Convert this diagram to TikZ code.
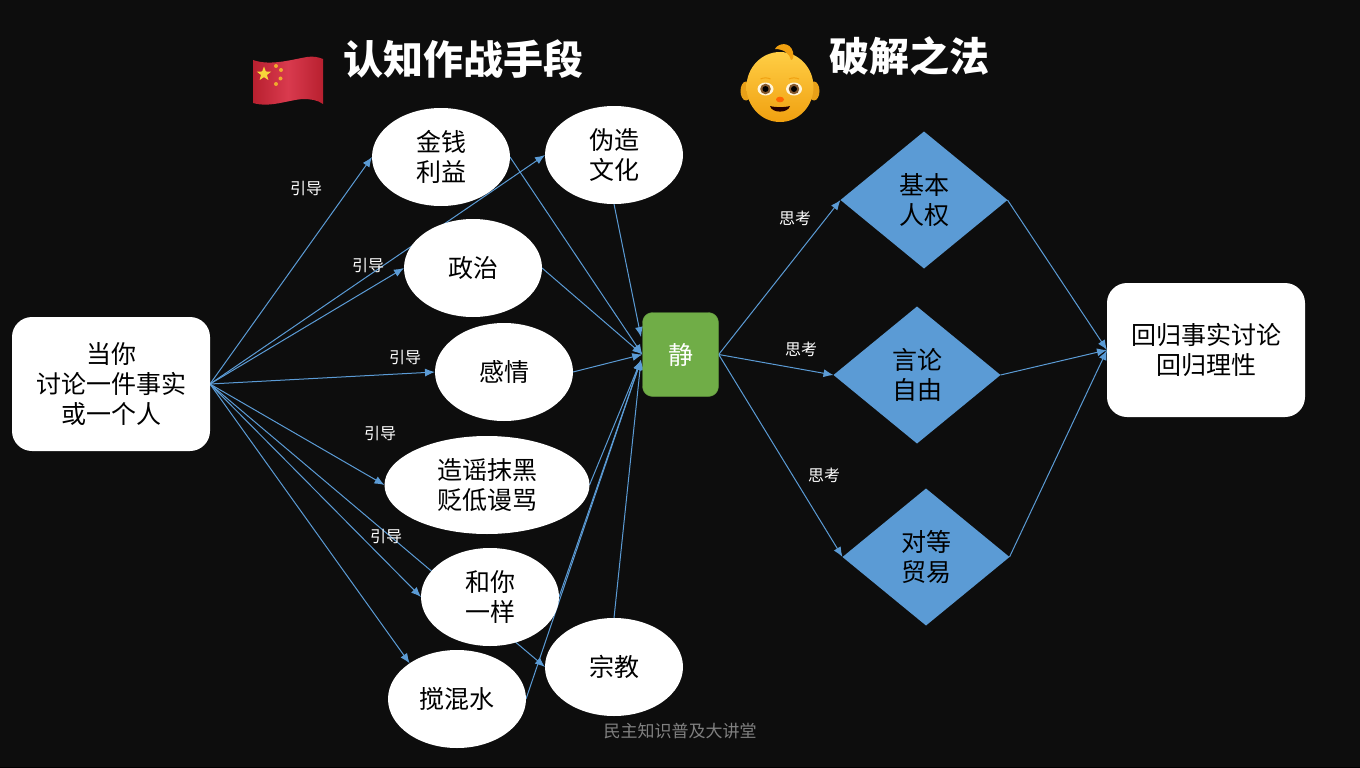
\documentclass[tikz,border=0pt]{standalone}
\usepackage{fontspec}
\setmainfont{Noto Sans CJK SC}
\usetikzlibrary{arrows.meta,backgrounds,shapes.geometric}
\definecolor{bgblack}{HTML}{0D0D0D}
\definecolor{linkblue}{HTML}{5B9BD5}
\definecolor{jinggreen}{HTML}{70AD47}
\definecolor{flagred}{HTML}{D93A4E}
\definecolor{flagdark}{HTML}{B8202F}
\definecolor{staryellow}{HTML}{F7D83A}
\definecolor{starorange}{HTML}{F0A92E}
\definecolor{babytop}{HTML}{FFCE45}
\definecolor{babylow}{HTML}{F0A010}
\definecolor{babyear}{HTML}{E8A018}
\tikzset{
	ell/.style={draw=none,ellipse,fill=white,text=black,inner sep=0,outer sep=0,minimum width=138pt,minimum height=98pt,align=center,font=\fontsize{25}{30}\selectfont},
	dia/.style={draw=none,diamond,fill=linkblue,text=black,inner sep=0,outer sep=0,minimum width=167pt,minimum height=137pt,align=center,font=\fontsize{25}{30}\selectfont},
	bigbox/.style={draw=none,rectangle,rounded corners=20pt,fill=white,text=black,inner sep=0,outer sep=0,minimum width=198pt,minimum height=134pt,align=center,font=\fontsize{25}{30}\selectfont},
	link/.style={draw=linkblue,line width=1pt,-{Latex[length=10pt,width=8pt]}},
	tag/.style={text=white,inner sep=0,font=\fontsize{16}{18}\selectfont},
	headline/.style={text=white,inner sep=0,font=\fontsize{40}{44}\selectfont\bfseries},
}
\begin{document}
\begin{tikzpicture}[x=1pt,y=-1pt]
	\useasboundingbox (0,0) rectangle (1360,768);
	% nodes
	\node[bigbox] (you) at (111,384) {当你\\讨论一件事实\\或一个人};
	\node[ell] (money) at (441,157) {金钱\\利益};
	\node[ell] (fake) at (614,155) {伪造\\文化};
	\node[ell] (politics) at (473,268) {政治};
	\node[ell] (feeling) at (504,372) {感情};
	\node[ell,minimum width=205pt] (rumor) at (487,485) {造谣抹黑\\贬低谩骂};
	\node[ell] (same) at (490,597) {和你\\一样};
	\node[ell] (religion) at (614,667) {宗教};
	\node[ell] (muddle) at (457,699) {搅混水};
	\node[draw=jinggreen!85!black,rectangle,rounded corners=10pt,fill=jinggreen,text=white,inner sep=0,minimum width=76pt,minimum height=84pt,font=\fontsize{25}{30}\selectfont] (calm) at (680.5,354.5) {静};
	\coordinate (calmtop) at (641,337);
	\coordinate (calmlow) at (641,360);
	\node[dia] (rights) at (924,200) {基本\\人权};
	\node[dia] (speech) at (917,375) {言论\\自由};
	\node[dia] (trade) at (926,557) {对等\\贸易};
	\node[bigbox] (back) at (1206,350) {回归事实讨论\\回归理性};
	% labels
	\node[tag] (g1) at (306,188) {引导};
	\node[tag] (g2) at (368,265) {引导};
	\node[tag] (g3) at (405,357) {引导};
	\node[tag] (g4) at (380,433) {引导};
	\node[tag] (g5) at (386,536) {引导};
	\node[tag] (s1) at (795,218) {思考};
	\node[tag] (s2) at (801,349) {思考};
	\node[tag] (s3) at (824,475) {思考};
	\node[headline] (title1) at (463,59) {认知作战手段};
	\node[headline] (title2) at (909,56) {破解之法};
	\node[text=black!50,inner sep=0,font=\fontsize{17}{20}\selectfont] (footer) at (680,731) {民主知识普及大讲堂};
	% connectors, below the nodes
	\begin{scope}[on background layer]
		\fill[bgblack] (0,0) rectangle (1360,768);
		\fill[black] (0,766.5) rectangle (1360,768);
		\foreach \n in {money,politics,feeling,rumor,same}
			\draw[link] (you.east) -- (\n.west);
		\draw[link] (you.east) -- (muddle.143);
		\draw[link] (you.east) -- (fake.west);
		\draw[link] (you.east) -- (religion.west);
		\draw[link] (money.east) -- (calm.west);
		\draw[link] (fake.south) -- (calmtop);
		\draw[link] (politics.east) -- (calm.west);
		\draw[link] (feeling.east) -- (calm.west);
		\draw[link] (rumor.east) -- (calmlow);
		\draw[link] (same.east) -- (calmlow);
		\draw[link] (religion.north) -- (calmlow);
		\draw[link] (muddle.east) -- (calmlow);
		\draw[link] (calm.east) -- (rights.west);
		\draw[link] (calm.east) -- (speech.west);
		\draw[link] (calm.east) -- (trade.west);
		\draw[link] (rights.east) -- (back.west);
		\draw[link] (speech.east) -- (back.west);
		\draw[link] (trade.east) -- (back.west);
	\end{scope}
	% flag
	\shade[left color=flagdark,right color=flagdark,middle color=flagred] (253,60) .. controls (270,66) and (290,60) .. (307,57) .. controls (313,56) and (318,57) .. (323,59) -- (323,104) .. controls (318,100) and (310,99) .. (303,99) .. controls (288,100) and (270,108) .. (253,103) -- cycle;
	\node[star,star points=5,star point ratio=2.4,fill=staryellow,inner sep=0,minimum size=15pt] (bigstar) at (264,74) {};
	\foreach \x/\y in {276/66,281/70,280.5/78.5,276/84}
		\fill[starorange] (\x,\y) circle (2);
	% baby
	\fill[babyear] (746,91) ellipse (5.5 and 9.5);
	\fill[babyear] (814,91) ellipse (5.5 and 9.5);
	\shade[top color=babytop,bottom color=babylow] (780,87) ellipse (33.5 and 35);
	\fill[babylow] (775,49) .. controls (778,43) and (790,41) .. (793,52) .. controls (794,57) and (793,60) .. (791,60) .. controls (790,54) and (784,49) .. (775,49) -- cycle;
	\foreach \x in {765.5,794}{
		\draw[babylow,line width=1pt] (\x-5,79) .. controls (\x-2,77.5) and (\x+2,77.5) .. (\x+5,79);
		\fill[white!80!babytop] (\x,89) ellipse (8 and 6.5);
		\fill[brown!70!black] (\x,89) circle (5.3);
		\fill[black] (\x,89) circle (3);
	}
	\fill[orange!80!red] (780,99.5) ellipse (4 and 2.8);
	\fill[black!85!red] (770,106) .. controls (775,107.5) and (785,107.5) .. (790,106) .. controls (788,113.5) and (772,113.5) .. (770,106) -- cycle;
\end{tikzpicture}
\end{document}
